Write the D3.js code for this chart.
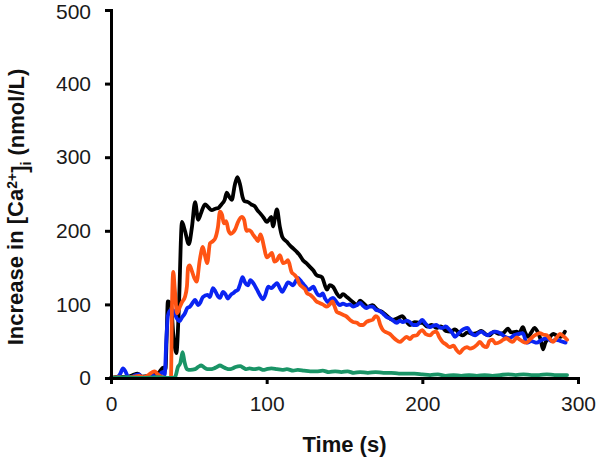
<!DOCTYPE html>
<html>
<head>
<meta charset="utf-8">
<script src="https://cdn.jsdelivr.net/npm/d3@7/dist/d3.min.js"></script>
<style>
  html, body { margin: 0; padding: 0; background: #fff; }
  svg { display: block; font-family: "Liberation Sans", Arial, sans-serif; }
</style>
</head>
<body>
<svg id="chart" width="600" height="462"></svg>
<script>
// ---- data ----
const xTicks = [0, 100, 200, 300];
const yTicks = [0, 100, 200, 300, 400, 500];
const xTitle = "Time (s)";

const blackTime = [0,5,10,14,17,20,24,28,31,33.5,35,35.8,36.5,38.5,40,42,43.5,45.6,47.5,50,52,54,56,58,60.4,62.5,64.7,67,69,71,73,74.4,76,77.6,79.5,81.2,83,84.5,86,88,90,92.5,94,95.7,98,100,101.5,103,104,106.6,108.5,110,113,115,117,119.5,121.5,123.3,125.5,127.8,130,132,135.5,138.7,140.5,142.6,145,147,149,151.5,155.5,158,160,162,165,168,171,174.7,177,181,184,187,190,192,195,198,200,203,206,209,212,215,218,221,224,226,229,232,235,238,241,243,246,249,252,255,257,260.7,262,264.6,266,268,270,272,274,276,277.5,279,282,284,286,289,291.6];
const blackValue = [0,2,1,4,6,2,3,5,8,14,12,60,104,100,60,34,90,212,200,182,205,239,215,225,236,232,228,230,231,236,242,252,246,242,262,273,262,246,240,239,236,233,228,224,218,212,215,219,206,229,205,192,185,180,176,171,166,160,156,151,146,140,137,120,126,124,115,110,114,110,103,99,105,102,97,99,93,89,85,79,81,84,76,72,76,75,75,70,72,68,70,64,63,66,60,58,62,60,61,64,59,58,63,60,61,67,62,63,60,69,62,56,62,68,63,52,39,48,56,60,58,56,63];

const blueTime = [0,4,6,7.7,9.5,11,14,16,18,20,23,26,28,31,33,34.5,35.5,36.6,38,40,42,44,45.5,47.5,49,50.7,52.7,54,56,57.5,59,62,63.5,65.5,67,68.7,70,72,73.5,75,77,78.4,80,81.6,83,84.5,86,88,89.5,91,93.8,95.5,97.6,99,101,103,105,106.6,108.5,110,112,113.7,115.5,117,118.5,120,121.5,123,125,126.5,128,130,131.5,133,134.5,136,137.5,139.4,141,142.6,145,147,149,151.5,153.5,155.5,158,160,162,164,166,168,170,172.8,175,177,180,183.7,185.5,187.5,190,192,194,196.5,198,200,202,205,207,209,211,213,215,217.7,219,221,223,225.4,227,229,231,234,236,238,240,242,244,247,250,253,256,259,262,264.6,267,270,273.6,276,280,283,286,289,292];
const blueValue = [0,1,6,13,8,1,2,4,5,1,2,5,2,4,8,5,50,85,92,92,82,77,82,88,95,97,103,106,99,103,110,113,110,122,118,111,109,117,114,108,113,115,118,120,128,137,130,126,133,130,120,113,107,112,124,122,126,129,122,117,124,130,128,126,131,136,133,129,124,120,121,124,118,113,112,115,108,103,107,109,103,99,101,99,100,97,99,102,98,95,97,97,93,91,87,83,80,75,78,76,78,76,72,72,75,79,74,69,71,72,69,68,70,65,62,56,60,65,67,68,62,58,61,63,60,58,61,63,61,56,54,58,60,61,48,50,48,51,54,50,52,50,48];

const orangeTime = [0,5,10,15,18,21,24,26.5,28,30,32,35,37,38.5,39.2,40,41,42.4,44,45.6,47.5,48.8,49.5,50.5,52,53.5,55,57,59,60.5,61.8,63.6,65.5,67,68.7,70,71.3,72.5,74,75.5,77,78.5,80,81.6,84,85.5,87,88.5,90,91.5,93,94.4,96,97,98.5,100,101.5,103.4,105,106.6,108.5,110.5,112,113.7,116,118,119.5,121,122.7,124.5,126,128,130,132,134,136,138.7,140.5,142.3,143.5,145,147,149,151,153.5,155.5,158,160,162,164,166,168,170,171.5,173,174.7,177,179,181,183,185.6,187.5,190,192,194,196.5,198,200,202,205,207,209,211,213,215,217.7,220,222,224,226,228.6,230.5,232.5,235,237,239,241.5,243,245,247,250,252,254,256,258,260.7,262.7,265,267,269,271,273,275.5,277.5,280,282,284,286,288.4,290.5,293];
const orangeValue = [0,1,0,2,3,1,4,8,9,5,2,0,0,0,100,144,120,88,95,103,110,125,150,153,145,136,131,160,178,165,156,183,186,190,205,226,222,210,213,200,196,198,203,212,219,215,200,201,199,194,190,186,195,190,176,164,166,170,158,160,167,156,157,160,144,140,136,128,124,121,115,113,109,104,102,100,97,100,104,98,90,88,86,84,79,76,75,72,72,76,78,79,84,82,72,65,62,60,56,52,49,52,56,53,57,58,62,65,60,58,62,63,55,49,46,42,44,38,34,39,42,40,41,45,49,44,42,50,52,47,49,52,54,51,49,55,52,49,48,52,56,59,61,59,58,53,49,54,60,57,52];

const greenTime = [0,10,20,30,38,40,41.5,43,44.5,46,47.2,48.8,51,54,56,58,60,62,63.6,66,68,70,72,74,76,78,80,83,85,87,89,92,95,98,100,103,106.6,110,113,117,120,124,128,132,136,140,144,148,152,156,160,165,170,175,180,185,190,195,200,205,210,215,220,225,230,235,240,245,250,255,260,265,270,275,280,285,290,293];
const greenValue = [0,1,0,1,0,0,3,15,20,35,22,12,11,12,15,17,14,12,12,13,15,17,15,13,12,13,15,16,14,12,13,12,13,11,12,13,12,11,12,10,11,10,9,9,10,8,9,8,9,7,8,7,8,7,7,6,6,6,5,4,5,3,4,3,4,3,4,3,4,5,4,5,4,4,5,4,4,4];

const seriesNames = ["Black", "Blue", "Orange", "Green"];
const seriesColors = ["#000000", "#0a24f2", "#ff5414", "#1a9466"];
const seriesTimes = [blackTime, blueTime, orangeTime, greenTime];
const seriesValues = [blackValue, blueValue, orangeValue, greenValue];

// ---- layout ----
const W = 600, H = 462;
const margin = { top: 10, right: 22, bottom: 84, left: 111 };
const iw = W - margin.left - margin.right;
const ih = H - margin.top - margin.bottom;

const svg = d3.select("#chart");
const g = svg.append("g").attr("transform", `translate(${margin.left},${margin.top})`);

const x = d3.scaleLinear().domain([0, 300]).range([0, iw]);
const y = d3.scaleLinear().domain([0, 500]).range([ih, 0]);

const line = d3.line()
  .x(d => x(d[0]))
  .y(d => y(d[1]))
  .curve(d3.curveMonotoneX);

seriesNames.forEach((name, i) => {
  const pts = seriesTimes[i].map((t, j) => [t, seriesValues[i][j]]);
  g.append("path")
    .datum(pts)
    .attr("fill", "none")
    .attr("stroke", seriesColors[i])
    .attr("stroke-width", 3.8)
    .attr("stroke-linejoin", "round")
    .attr("stroke-linecap", "round")
    .attr("d", line);
});

// axes
const xAxis = g.append("g")
  .attr("transform", `translate(0,${ih})`)
  .call(d3.axisBottom(x).tickValues(xTicks).tickSize(6).tickSizeOuter(6).tickPadding(12));
const yAxis = g.append("g")
  .call(d3.axisLeft(y).tickValues(yTicks).tickSize(6).tickSizeOuter(6).tickPadding(14));

[xAxis, yAxis].forEach(a => {
  a.select(".domain").attr("stroke", "#000").attr("stroke-width", 3);
  a.selectAll(".tick line").attr("stroke", "#000").attr("stroke-width", 3);
  a.selectAll(".tick text")
    .attr("fill", "#1a1a1a")
    .style("font-size", "21px")
    .style("font-family", "'Liberation Sans', Arial, sans-serif");
});
// keep the top label fully inside the picture
yAxis.selectAll(".tick text").filter(d => d === 500).attr("dy", "0.42em");

// axis titles
svg.append("text")
  .attr("x", margin.left + iw / 2)
  .attr("y", 452)
  .attr("text-anchor", "middle")
  .style("font-size", "22px")
  .style("font-weight", "bold")
  .attr("fill", "#111")
  .text(xTitle);

const yt = svg.append("text")
  .attr("transform", "translate(23,207) rotate(-90)")
  .attr("text-anchor", "middle")
  .style("font-size", "22px")
  .style("font-weight", "bold")
  .attr("fill", "#111");
yt.append("tspan").text("Increase in [Ca");
yt.append("tspan").attr("dy", "-0.45em").style("font-size", "14px").text("2+");
yt.append("tspan").attr("dy", "0.45em").text("]");
yt.append("tspan").attr("dy", "0.3em").style("font-size", "14px").text("i");
yt.append("tspan").attr("dy", "-0.3em").text(" (nmol/L)");
</script>
</body>
</html>
